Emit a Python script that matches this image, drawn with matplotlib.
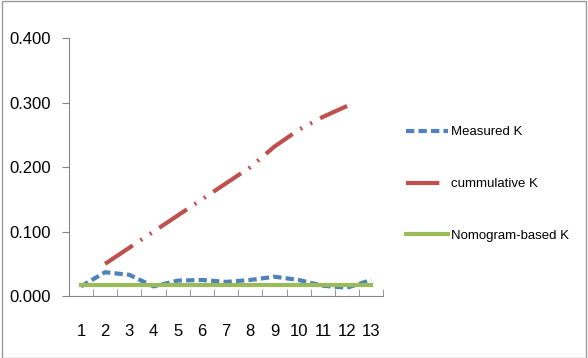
import numpy as np
import matplotlib
matplotlib.use("Agg")
import matplotlib.pyplot as plt

plt.rcParams['font.family'] = ['Liberation Sans', 'DejaVu Sans']

categories = list(range(1, 14))
measured = [0.015, 0.037, 0.033, 0.015, 0.024, 0.025, 0.022, 0.025, 0.030, 0.025, 0.016, 0.013, 0.025]
cumulative_x = list(range(2, 13))
cumulative = [0.050, 0.075, 0.100, 0.125, 0.150, 0.175, 0.200, 0.232, 0.258, 0.278, 0.295]
nomogram = [0.017] * 13

fig = plt.figure(figsize=(5.88, 3.58), dpi=100)
ax = fig.add_axes([0.117, 0.173, 0.535, 0.72])

ax.plot(categories, measured, color='#4F81BD', lw=3, dashes=(2, 1), label='Measured K')
ax.plot(cumulative_x, cumulative, color='#C0504D', lw=3, dashes=(8, 2.2, 0.5, 2.2, 0.5, 2.2), label='cummulative K')
ax.plot(categories, nomogram, color='#9BBB59', lw=3, label='Nomogram-based K')

ax.set_xlim(0.5, 13.5)
ax.set_ylim(0, 0.4)
yt = [0, 0.1, 0.2, 0.3, 0.4]
ax.set_yticks(yt)
ax.set_yticklabels(['%.3f' % v for v in yt])
ax.set_xticks(categories)
ax.set_xticks(np.arange(0.5, 14, 1), minor=True)
ax.tick_params(axis='x', which='major', length=0, pad=20, labelsize=12)
ax.tick_params(axis='x', which='minor', length=5, direction='in', color='#868686')
ax.tick_params(axis='y', length=5, color='#868686', labelsize=12, pad=8)
for s in ['top', 'right']:
    ax.spines[s].set_visible(False)
for s in ['left', 'bottom']:
    ax.spines[s].set_color('#868686')

leg = fig.legend(loc='center left', bbox_to_anchor=(0.69, 0.486), frameon=False,
                 fontsize=9.5, handlelength=3.2, handletextpad=0.25, labelspacing=3.0,
                 borderpad=0, borderaxespad=0)

fig.patches.append(matplotlib.patches.Rectangle((0.004, 0.0), 0.993, 0.997, transform=fig.transFigure,
                                                fill=False, edgecolor='#9a9a9a', lw=1))
fig.savefig('out.png', dpi=100)
